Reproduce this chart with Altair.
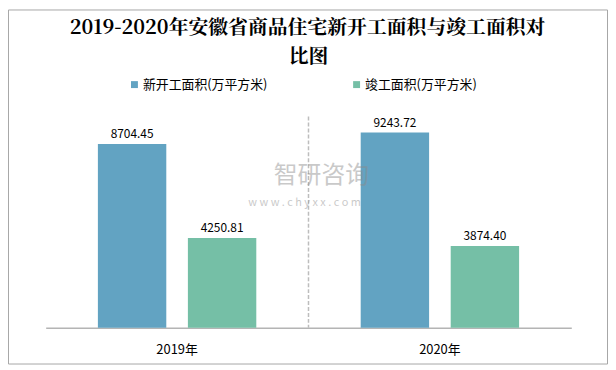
import altair as alt
import pandas as pd

years = ["2019年", "2020年"]
series = ["新开工面积(万平方米)", "竣工面积(万平方米)"]
new_start = [8704.45, 9243.72]
completed = [4250.81, 3874.40]
colors = ["#62A3C2", "#75BFA6"]
title_lines = ["2019-2020年安徽省商品住宅新开工面积与竣工面积对", "比图"]
watermark = ["智研咨询", "w w w . c h y x x . c o m"]

rows = []
for i, yr in enumerate(years):
    rows.append({"year": yr, "series": series[0], "value": new_start[i], "label": f"{new_start[i]:.2f}"})
    rows.append({"year": yr, "series": series[1], "value": completed[i], "label": f"{completed[i]:.2f}"})
df = pd.DataFrame(rows)

FONT = "Noto Sans CJK SC"
TITLE_FONT = "Noto Serif CJK SC, Noto Sans CJK SC"


def make_x(**kw):
    return alt.X(
        "year:N", sort=years,
        scale=alt.Scale(domain=years, paddingInner=0, paddingOuter=0),
        axis=alt.Axis(title=None, labelAngle=0, ticks=False, domainColor="#b4b4b4",
                      domainWidth=1.5, labelFontSize=13, labelColor="#000000",
                      labelFont=FONT, labelPadding=16, grid=False),
        **kw,
    )


xo = alt.XOffset("series:N", sort=series,
                 scale=alt.Scale(domain=series, paddingInner=0.24, paddingOuter=0.58))
y = alt.Y("value:Q", scale=alt.Scale(domain=[0, 10000]), axis=None)
color = alt.Color(
    "series:N", sort=series,
    scale=alt.Scale(domain=series, range=colors),
    legend=alt.Legend(title=None, orient="none", direction="horizontal",
                      legendX=83, legendY=-39, symbolType="square", symbolSize=49,
                      symbolStrokeWidth=0, labelFontSize=13, labelFont=FONT,
                      labelColor="#000000", columnPadding=83, labelOffset=2, padding=0),
)

base = alt.Chart(df)
bars = base.mark_bar().encode(x=make_x(), xOffset=xo, y=y, color=color)
labels = base.mark_text(dy=-10, fontSize=12, font=FONT, color="#000000").encode(
    x=make_x(), xOffset=xo, y=y, text="label:N")

sep_df = pd.DataFrame({"year": [years[1]]})
sep = alt.Chart(sep_df).mark_rule(color="#bdbdbd", strokeDash=[4, 2], strokeWidth=1.5).encode(
    x=make_x(bandPosition=0))

one = pd.DataFrame({"k": [0]})
frame = alt.Chart(one).mark_rect(fillOpacity=0, stroke="#a6a6a6", strokeWidth=1).encode(
    x=alt.value(-37.5), x2=alt.value(566.5), y=alt.value(-107.5), y2=alt.value(249.5))

t1 = alt.Chart(one).mark_text(fontSize=20, fontWeight="bold", font=TITLE_FONT, color="#000000",
                              align="center", baseline="middle").encode(
    x=alt.value(264), y=alt.value(-89), text=alt.value(title_lines[0]))
t2 = alt.Chart(one).mark_text(fontSize=20, fontWeight="bold", font=TITLE_FONT, color="#000000",
                              align="center", baseline="middle").encode(
    x=alt.value(265), y=alt.value(-60), text=alt.value(title_lines[1]))

w1 = alt.Chart(one).mark_text(fontSize=24, font=FONT, color="#8a8a8a", opacity=0.45,
                              align="center", baseline="middle").encode(
    x=alt.value(278), y=alt.value(60), text=alt.value(watermark[0]))
w2 = alt.Chart(one).mark_text(fontSize=11, font=FONT, color="#8a8a8a", opacity=0.45,
                              align="center", baseline="middle").encode(
    x=alt.value(261), y=alt.value(87), text=alt.value(watermark[1]))

chart = alt.layer(frame, sep, bars, labels, w1, w2, t1, t2).properties(
    width=530, height=213,
    padding={"left": 38, "top": 108, "right": 37, "bottom": 37},
    autosize=alt.AutoSizeParams(type="none"),
).configure(background="#ffffff", view=alt.ViewConfig(stroke=None))

chart.save("out.html", embed_options={"renderer": "svg", "actions": False})
